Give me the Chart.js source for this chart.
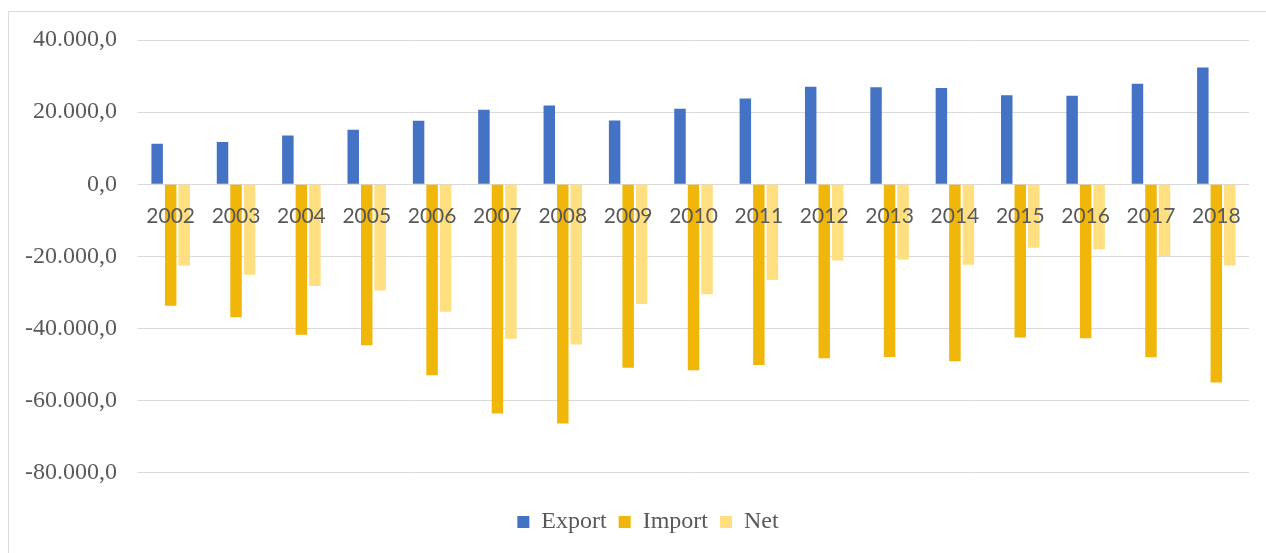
<!DOCTYPE html>
<html>
<head>
<meta charset="utf-8">
<script src="https://cdn.jsdelivr.net/npm/chart.js@4.4.1/dist/chart.umd.min.js"></script>
<style>
  html, body { margin: 0; padding: 0; background: #fff; overflow: hidden; }
  #frame { position: absolute; left: 8px; top: 11px; width: 1300px; height: 600px; border: 1px solid #d9d9d9; }
  #wrap { position: absolute; left: 0; top: 0; width: 1266px; height: 553px; }
</style>
</head>
<body>
<div id="frame"></div>
<div id="wrap"><canvas id="tradeChart"></canvas></div>
<script>
// values
const years = ['2002', '2003', '2004', '2005', '2006', '2007', '2008', '2009', '2010',
               '2011', '2012', '2013', '2014', '2015', '2016', '2017', '2018'];
const exportVals = [11200, 11750, 13500, 15100, 17600, 20650, 21870, 17690, 20950,
                    23800, 27070, 26880, 26690, 24650, 24570, 27900, 32370];
const importVals = [-33650, -36900, -41730, -44620, -52980, -63560, -66350, -50840, -51590,
                    -50090, -48240, -47860, -49080, -42480, -42670, -47970, -54930];
const netVals = [-22510, -25120, -28190, -29470, -35320, -42840, -44430, -33200, -30500,
                 -26520, -21110, -20840, -22340, -17600, -18050, -19920, -22510];
const yMin = -80000, yMax = 40000, yStep = 20000;

const textColor = '#595959';
const gridColor = '#d9d9d9';

function fmt(v) {
    let parts = Math.abs(v).toFixed(1).split('.');
    let intPart = parts[0].replace(/\B(?=(\d{3})+(?!\d))/g, '.');
    return (v < 0 ? '-' : '') + intPart + ',' + parts[1];
}

function barSet(label, data, color) {
    return {
        label: label,
        data: data,
        backgroundColor: color,
        borderWidth: 0,
        categoryPercentage: 0.62,
        barPercentage: 0.85
    };
}

// the y labels are wider than the axis box, let them draw to the left edge
const yLabelRoom = {
    id: 'yLabelRoom',
    afterLayout(chart) {
        chart.scales.y.left = 0;
    }
};

const ctx = document.getElementById('tradeChart').getContext('2d');
const tradeChart = new Chart(ctx, {
    type: 'bar',
    data: {
        labels: years,
        datasets: [
            barSet('Export', exportVals, '#4472C4'),
            barSet('Import', importVals, '#F0B60A'),
            barSet('Net', netVals, '#FFDF80')
        ]
    },
    options: {
        responsive: true,
        maintainAspectRatio: false,
        animation: false,
        layout: {
            padding: { left: 47, right: 17, top: 40, bottom: 9 }
        },
        scales: {
            x: {
                position: { y: 0 },
                grid: { display: false, drawTicks: false },
                border: { display: false },
                ticks: {
                    z: 1,
                    color: textColor,
                    padding: 19,
                    maxRotation: 0,
                    font: { family: 'Lato', size: 21 }
                }
            },
            y: {
                min: yMin,
                max: yMax,
                afterFit: function (scale) { scale.width = 91; },
                grid: { color: gridColor, lineWidth: 1, drawTicks: false },
                border: { display: false },
                ticks: {
                    stepSize: yStep,
                    padding: 21,
                    color: textColor,
                    font: { family: 'Liberation Serif', size: 24 },
                    callback: function (value) { return fmt(value); }
                }
            }
        },
        plugins: {
            legend: {
                position: 'bottom',
                title: { display: true, text: '', font: { size: 1 }, padding: { top: 24, bottom: 0 } },
                labels: {
                    boxWidth: 12,
                    boxHeight: 12,
                    padding: 12,
                    color: textColor,
                    font: { family: 'Liberation Serif', size: 24 }
                }
            },
            tooltip: { enabled: false }
        }
    },
    plugins: [yLabelRoom]
});
</script>
</body>
</html>
